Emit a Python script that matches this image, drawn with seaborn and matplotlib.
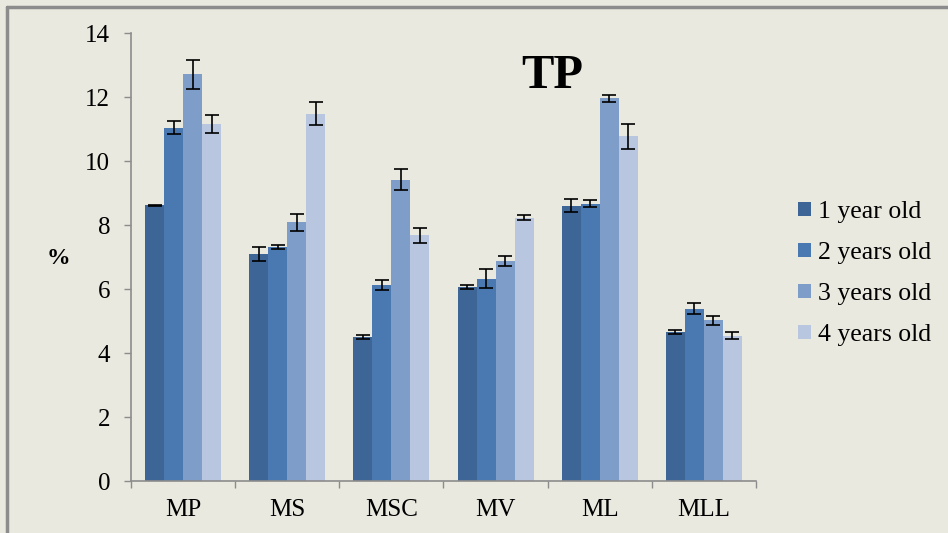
import matplotlib
matplotlib.use("Agg")
import matplotlib.pyplot as plt
from matplotlib.lines import Line2D
import seaborn as sns
import pandas as pd
import numpy as np

categories = ["MP", "MS", "MSC", "MV", "ML", "MLL"]
groups = ["1 year old", "2 years old", "3 years old", "4 years old"]
vals_1 = [8.62, 7.09, 4.50, 6.05, 8.60, 4.66]
vals_2 = [11.04, 7.31, 6.13, 6.32, 8.67, 5.39]
vals_3 = [12.71, 8.08, 9.42, 6.87, 11.96, 5.02]
vals_4 = [11.16, 11.48, 7.68, 8.23, 10.78, 4.54]
err_1 = [0.02, 0.22, 0.06, 0.06, 0.20, 0.06]
err_2 = [0.21, 0.05, 0.15, 0.30, 0.10, 0.18]
err_3 = [0.45, 0.27, 0.32, 0.16, 0.11, 0.13]
err_4 = [0.28, 0.35, 0.23, 0.07, 0.39, 0.11]
colors = ["#3D6596", "#4A79B1", "#7F9DC9", "#B8C6E0"]

vals = [vals_1, vals_2, vals_3, vals_4]
errs = [err_1, err_2, err_3, err_4]
rows = []
for g, v, e in zip(groups, vals, errs):
    for c, vv, ee in zip(categories, v, e):
        rows.append({"cat": c, "grp": g, "val": vv, "err": ee})
df = pd.DataFrame(rows)

bg = "#EAE9DF"
sns.set_theme(style="white")
plt.rcParams["font.family"] = ["Liberation Serif", "DejaVu Serif"]
plt.rcParams["text.color"] = "black"
plt.rcParams["xtick.labelcolor"] = "black"
plt.rcParams["ytick.labelcolor"] = "black"

fig = plt.figure(figsize=(9.48, 5.33), dpi=100, facecolor=bg)
ax = fig.add_axes([131 / 948, 1 - 481 / 533, (756 - 131) / 948, (481 - 33) / 533])
ax.set_facecolor(bg)

sns.barplot(data=df, x="cat", y="val", hue="grp", order=categories,
            hue_order=groups, palette=colors, width=0.73, errorbar=None,
            saturation=1, linewidth=0, ax=ax)

# error bars at the bar positions produced by seaborn
for container, g in zip(ax.containers, groups):
    sub = df[df["grp"] == g].set_index("cat").loc[categories]
    xs = [p.get_x() + p.get_width() / 2 for p in container.patches]
    hs = [p.get_height() for p in container.patches]
    ax.errorbar(xs, hs, yerr=sub["err"].values, fmt="none", ecolor="black",
                elinewidth=1.2, capsize=5, capthick=1.2, zorder=5)

ax.set_ylim(0, 14)
ax.set_xlim(-0.5, len(categories) - 0.5)
ax.set_yticks(np.arange(0, 15, 2))
ax.set_xticks(np.arange(len(categories)))
ax.set_xticks(np.arange(len(categories) + 1) - 0.5, minor=True)
ax.set_xticklabels(categories)
ax.tick_params(axis="x", which="major", length=0, pad=13, labelsize=18,
               labelcolor="black")
ax.tick_params(axis="x", which="minor", length=5, width=1, color="#8C8C8C",
               direction="out", bottom=True)
ax.tick_params(axis="y", length=5, width=1, color="#8C8C8C", direction="out",
               left=True, pad=10, labelsize=18, labelcolor="black")
for s in ["top", "right"]:
    ax.spines[s].set_visible(False)
for s in ["left", "bottom"]:
    ax.spines[s].set_color("#8C8C8C")
    ax.spines[s].set_linewidth(1.2)
ax.set_xlabel("")
ax.set_ylabel("")
fig.text(58 / 948, 1 - 259 / 533, "%", fontsize=17, fontweight="bold",
         ha="center", va="center", color="black")
fig.text(552 / 948, 1 - 76 / 533, "TP", fontsize=35, fontweight="bold",
         ha="center", va="center", color="black")

ax.legend_.remove()
handles = [plt.Rectangle((0, 0), 1, 1, facecolor=c, edgecolor="none") for c in colors]
leg = fig.legend(handles, groups, loc="center left",
                 bbox_to_anchor=(798 / 948, 1 - 273.5 / 533), frameon=False,
                 fontsize=18.5, handlelength=0.5, handleheight=0.5,
                 handletextpad=0.27, labelspacing=0.74, borderpad=0,
                 borderaxespad=0)
for t in leg.get_texts():
    t.set_color("black")

# outer frame lines
fig.add_artist(Line2D([7 / 948, 7 / 948], [0, 1 - 7 / 533], color="#8C8C8C", lw=2.5,
                      transform=fig.transFigure))
fig.add_artist(Line2D([7 / 948, 1], [1 - 7 / 533, 1 - 7 / 533], color="#8C8C8C", lw=2.5,
                      transform=fig.transFigure))

fig.savefig("out.png", dpi=100, facecolor=bg)
